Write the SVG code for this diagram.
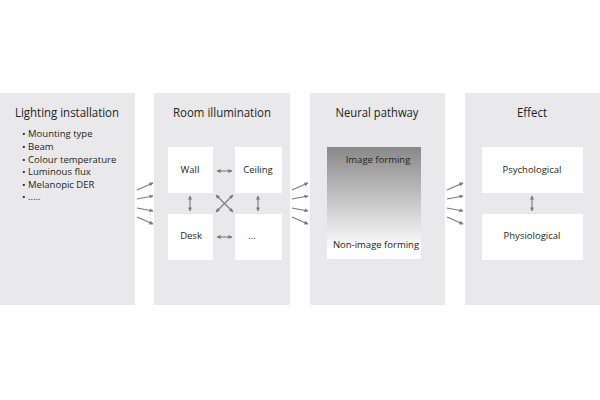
<svg xmlns="http://www.w3.org/2000/svg" width="600" height="400" viewBox="0 0 600 400">
<style>
.panel{fill:#e9e9eb}
.box{fill:#ffffff}
text{font-family:"Open Sans","Liberation Sans",sans-serif;fill:#231f20}
.title{font-size:13px;text-anchor:middle}
.lbl{font-size:9.5px;text-anchor:middle}
.bul{font-size:9.5px}
.c{stroke:#7a7a7a;stroke-width:1.1;fill:none}
</style>
<defs>
<marker id="ah" viewBox="0 0 10 10" refX="9" refY="5" markerWidth="4" markerHeight="4" orient="auto-start-reverse" markerUnits="userSpaceOnUse">
<path d="M0,0 L10,5 L0,10 z" fill="#7a7a7a"/>
</marker>
<linearGradient id="g" x1="0" y1="0" x2="0" y2="1">
<stop offset="0" stop-color="#888888"/>
<stop offset="0.92" stop-color="#ffffff"/>
</linearGradient>
</defs>
<g id="lighting-installation">
<rect class="panel" x="0" y="93" width="135" height="212"/>
<text class="title" x="67" y="117" textLength="104" lengthAdjust="spacingAndGlyphs">Lighting installation</text>
<text class="bul" x="22" y="137">• Mounting type</text>
<text class="bul" x="22" y="150">• Beam</text>
<text class="bul" x="22" y="162.5">• Colour temperature</text>
<text class="bul" x="22" y="175">• Luminous flux</text>
<text class="bul" x="22" y="187.5">• Melanopic DER</text>
<text class="bul" x="22" y="200">• .....</text>
</g>
<g id="room-illumination">
<rect class="panel" x="154" y="93" width="136" height="212"/>
<text class="title" x="222" y="117" textLength="98" lengthAdjust="spacingAndGlyphs">Room illumination</text>
</g>
<g id="wall"><rect class="box" x="168" y="147" width="45" height="46"/><text class="lbl" x="190" y="173">Wall</text></g>
<g id="ceiling"><rect class="box" x="235" y="147" width="47" height="46"/><text class="lbl" x="258" y="173">Ceiling</text></g>
<g id="desk"><rect class="box" x="168" y="214" width="45" height="46"/><text class="lbl" x="191" y="239">Desk</text></g>
<g id="etc"><rect class="box" x="235" y="214" width="47" height="46"/><text class="lbl" x="252" y="239">...</text></g>
<g id="neural-pathway">
<rect class="panel" x="310" y="93" width="135" height="212"/>
<text class="title" x="377" y="117" textLength="83" lengthAdjust="spacingAndGlyphs">Neural pathway</text>
<rect x="327" y="147" width="94" height="112" fill="url(#g)"/>
<text class="lbl" x="378" y="163">Image forming</text>
<text class="lbl" x="376" y="248">Non-image forming</text>
</g>
<g id="effect">
<rect class="panel" x="465" y="93" width="135" height="212"/>
<text class="title" x="532" y="117" textLength="30" lengthAdjust="spacingAndGlyphs">Effect</text>
</g>
<g id="psychological"><rect class="box" x="482" y="147" width="101" height="46"/><text class="lbl" x="532" y="173">Psychological</text></g>
<g id="physiological"><rect class="box" x="482" y="214" width="101" height="46"/><text class="lbl" x="532" y="239">Physiological</text></g>
<g id="connectors">
<line class="c" x1="137" y1="190" x2="153" y2="183" marker-end="url(#ah)"/>
<line class="c" x1="137" y1="199" x2="153" y2="196" marker-end="url(#ah)"/>
<line class="c" x1="137" y1="208" x2="153" y2="211" marker-end="url(#ah)"/>
<line class="c" x1="137" y1="217" x2="153" y2="224" marker-end="url(#ah)"/>
<line class="c" x1="292" y1="190" x2="308" y2="183" marker-end="url(#ah)"/>
<line class="c" x1="292" y1="199" x2="308" y2="196" marker-end="url(#ah)"/>
<line class="c" x1="292" y1="208" x2="308" y2="211" marker-end="url(#ah)"/>
<line class="c" x1="292" y1="217" x2="308" y2="224" marker-end="url(#ah)"/>
<line class="c" x1="447" y1="190" x2="463" y2="183" marker-end="url(#ah)"/>
<line class="c" x1="447" y1="199" x2="463" y2="196" marker-end="url(#ah)"/>
<line class="c" x1="447" y1="208" x2="463" y2="211" marker-end="url(#ah)"/>
<line class="c" x1="447" y1="217" x2="463" y2="224" marker-end="url(#ah)"/>
<line class="c" x1="217" y1="171" x2="232" y2="171" marker-start="url(#ah)" marker-end="url(#ah)"/>
<line class="c" x1="217" y1="237" x2="232" y2="237" marker-start="url(#ah)" marker-end="url(#ah)"/>
<line class="c" x1="190" y1="196" x2="190" y2="211" marker-start="url(#ah)" marker-end="url(#ah)"/>
<line class="c" x1="258" y1="196" x2="258" y2="211" marker-start="url(#ah)" marker-end="url(#ah)"/>
<line class="c" x1="216" y1="195" x2="233" y2="212" marker-start="url(#ah)" marker-end="url(#ah)"/>
<line class="c" x1="233" y1="195" x2="216" y2="212" marker-start="url(#ah)" marker-end="url(#ah)"/>
<line class="c" x1="532" y1="196" x2="532" y2="211" marker-start="url(#ah)" marker-end="url(#ah)"/>
</g>
</svg>
